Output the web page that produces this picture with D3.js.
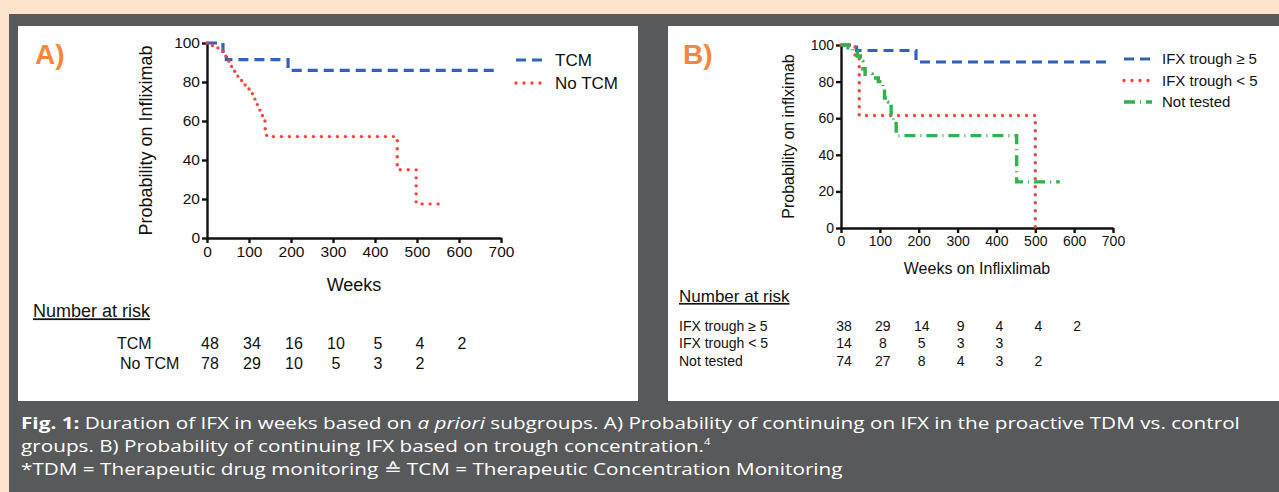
<!DOCTYPE html>
<html>
<head>
<meta charset="utf-8">
<script src="https://cdn.jsdelivr.net/npm/d3@7"></script>
<style>
  body { margin: 0; background: #fde2cc; }
  svg text { font-family: "Liberation Sans", Arial, sans-serif; fill: #111; }
  .caption text { font-family: "Open Sans", "Noto Sans", sans-serif; fill: #fff; }
  .axis path, .axis line { stroke: #111; stroke-width: 2.4; }
  .axis text { font-family: "Liberation Sans", Arial, sans-serif; fill: #111; }
</style>
</head>
<body>
<svg id="fig" width="1279" height="492"></svg>
<script>
// ---- data ----
const weekTicks = [0, 100, 200, 300, 400, 500, 600, 700];
const probTicks = [0, 20, 40, 60, 80, 100];
const riskWeeks = [0, 100, 200, 300, 400, 500, 600];

// Panel A: Kaplan-Meier steps (weeks, % still on infliximab)
const tcmWeeks   = [0, 38, 46, 193, 685];
const tcmProb    = [100, 94, 91.5, 86, 86];
const noTcmWeeks = [0, 10, 20, 30, 38, 45, 52, 58, 64, 72, 80, 90, 100, 108, 114, 120, 126, 132, 138, 142, 453, 498, 563];
const noTcmProb  = [100, 98.7, 97.4, 96, 94.6, 93, 90.5, 88, 85.5, 83, 80.8, 78.5, 76, 73, 70, 67, 64, 60, 56, 52, 35, 17.5, 17.5];

// Panel B
const hiWeeks  = [0, 40, 193, 683];
const hiProb   = [100, 97, 90.7, 90.7];
const loWeeks  = [0, 36, 47, 500];
const loProb   = [100, 93, 61.5, 0];
const ntWeeks  = [0, 18, 30, 42, 50, 56, 62, 80, 96, 108, 112, 122, 129, 135, 142, 452, 563];
const ntProb   = [100, 98.5, 96.5, 94, 91, 87, 84, 82, 80, 77, 71, 69, 62, 59, 50.5, 25.2, 25.2];

// Numbers at risk
const riskLabelsA = ['TCM', 'No TCM'];
const riskA = [[48, 34, 16, 10, 5, 4, 2], [78, 29, 10, 5, 3, 2]];
const riskLabelsB = ['IFX trough \u2265 5', 'IFX trough < 5', 'Not tested'];
const riskB = [[38, 29, 14, 9, 4, 4, 2], [14, 8, 5, 3, 3], [74, 27, 8, 4, 3, 2]];

const legendA = ['TCM', 'No TCM'];
const legendB = ['IFX trough \u2265 5', 'IFX trough < 5', 'Not tested'];

// line styles
const styles = {
  blue:  {stroke: '#2f62b8', width: 3.2, dash: '10,6', cap: 'butt'},
  red:   {stroke: '#f2453d', width: 3.4, dash: '0,8', cap: 'round'},
  green: {stroke: '#2fb34c', width: 3.4, dash: '11,5,1,5', cap: 'butt'}
};

const svg = d3.select('#fig');

// background: peach page, grey box, two white panels
svg.append('rect').attr('x', 0).attr('y', 0).attr('width', 1279).attr('height', 492).attr('fill', '#fde2cc');
svg.append('rect').attr('x', 9).attr('y', 14).attr('width', 1270).attr('height', 478).attr('fill', '#58595b');
svg.append('rect').attr('x', 18).attr('y', 26).attr('width', 620).attr('height', 375).attr('fill', '#fff');
svg.append('rect').attr('x', 668).attr('y', 26).attr('width', 611).attr('height', 375).attr('fill', '#fff');

class KMChart {
  constructor(_config) {
    this.config = _config;
    this.initVis();
  }

  initVis() {
    let vis = this;
    const c = vis.config;

    vis.xScale = d3.scaleLinear().domain([0, 700]).range([c.x0, c.x1]);
    vis.yScale = d3.scaleLinear().domain([0, 100]).range([c.y0, c.y1]);

    vis.g = svg.append('g');

    // axes
    vis.g.append('g')
        .attr('class', 'axis')
        .attr('transform', `translate(0,${c.y0})`)
        .call(d3.axisBottom(vis.xScale).tickValues(weekTicks).tickSize(5).tickPadding(3).tickSizeOuter(0))
        .selectAll('text').style('font-size', c.tickFont + 'px');

    vis.g.append('g')
        .attr('class', 'axis')
        .attr('transform', `translate(${c.x0},0)`)
        .call(d3.axisLeft(vis.yScale).tickValues(probTicks).tickSize(5).tickPadding(2).tickSizeOuter(0))
        .selectAll('text').style('font-size', c.tickFont + 'px');

    // axis titles
    vis.g.append('text')
        .attr('x', (c.x0 + c.x1) / 2)
        .attr('y', c.xTitleY)
        .attr('text-anchor', 'middle')
        .style('font-size', c.titleFont + 'px')
        .text(c.xTitle);

    vis.g.append('text')
        .attr('transform', `translate(${c.yTitleX},${(c.y0 + c.y1) / 2}) rotate(-90)`)
        .attr('text-anchor', 'middle')
        .attr('dy', '0.35em')
        .style('font-size', c.titleFont + 'px')
        .text(c.yTitle);

    // panel letter
    vis.g.append('text')
        .attr('x', c.letterX).attr('y', 64)
        .style('font-size', '28px').style('font-weight', 'bold')
        .style('fill', '#f4873e')
        .text(c.letter);

    vis.line = d3.line()
        .x(d => vis.xScale(d[0]))
        .y(d => vis.yScale(d[1]))
        .curve(d3.curveStepAfter);
  }

  renderVis() {
    let vis = this;
    const c = vis.config;

    vis.g.selectAll('.km')
        .data(c.series)
      .join('path')
        .attr('class', 'km')
        .attr('fill', 'none')
        .attr('d', s => vis.line(d3.zip(s.weeks, s.prob)))
        .attr('stroke', s => styles[s.style].stroke)
        .attr('stroke-width', s => styles[s.style].width)
        .attr('stroke-dasharray', s => styles[s.style].dash)
        .attr('stroke-linecap', s => styles[s.style].cap);

    // legend
    const leg = vis.g.selectAll('.legend')
        .data(c.series)
      .join('g')
        .attr('class', 'legend')
        .attr('transform', (s, i) => `translate(${c.legX},${c.legY + i * c.legStep})`);
    leg.append('line')
        .attr('x1', 0).attr('x2', c.legLen)
        .attr('stroke', s => styles[s.style].stroke)
        .attr('stroke-width', s => styles[s.style].width)
        .attr('stroke-dasharray', s => styles[s.style].dash)
        .attr('stroke-linecap', s => styles[s.style].cap);
    leg.append('text')
        .attr('x', c.legLen + 10).attr('dy', '0.35em')
        .style('font-size', c.legFont + 'px')
        .text((s, i) => c.legend[i]);

    // number at risk table
    vis.g.append('text')
        .attr('x', c.riskTitleX).attr('y', c.riskTitleY)
        .attr('dy', '0.35em')
        .style('font-size', c.riskTitleFont + 'px')
        .style('text-decoration', 'underline')
        .text('Number at risk');

    c.riskRows.forEach((row, i) => {
      vis.g.append('text')
          .attr('x', c.riskLabelX[i]).attr('y', c.riskY[i])
          .attr('dy', '0.35em')
          .style('font-size', c.riskFont + 'px')
          .text(c.riskLabels[i]);
      vis.g.selectAll(null)
          .data(row)
        .join('text')
          .attr('x', (d, j) => vis.xScale(riskWeeks[j]) + 3)
          .attr('y', c.riskY[i])
          .attr('dy', '0.35em')
          .attr('text-anchor', 'middle')
          .style('font-size', c.riskFont + 'px')
          .text(d => d);
    });
  }
}

const chartA = new KMChart({
  x0: 207, x1: 501, y0: 238, y1: 43,
  tickFont: 15.5, titleFont: 18,
  xTitle: 'Weeks', xTitleY: 291,
  yTitle: 'Probability on Infliximab', yTitleX: 146,
  letter: 'A)', letterX: 35,
  series: [
    {weeks: tcmWeeks, prob: tcmProb, style: 'blue'},
    {weeks: noTcmWeeks, prob: noTcmProb, style: 'red'}
  ],
  legend: legendA, legX: 516, legY: 60, legStep: 23, legLen: 29, legFont: 17,
  riskTitleX: 33, riskTitleY: 311, riskTitleFont: 18,
  riskRows: riskA, riskLabels: riskLabelsA, riskLabelX: [117, 120], riskY: [343, 363], riskFont: 16
});
chartA.renderVis();

const chartB = new KMChart({
  x0: 841, x1: 1113, y0: 228, y1: 45,
  tickFont: 14, titleFont: 16,
  xTitle: 'Weeks on Inflixlimab', xTitleY: 274,
  yTitle: 'Probability on inflximab', yTitleX: 788,
  letter: 'B)', letterX: 683,
  series: [
    {weeks: hiWeeks, prob: hiProb, style: 'blue'},
    {weeks: loWeeks, prob: loProb, style: 'red'},
    {weeks: ntWeeks, prob: ntProb, style: 'green'}
  ],
  legend: legendB, legX: 1124, legY: 59, legStep: 21.5, legLen: 28, legFont: 15,
  riskTitleX: 679, riskTitleY: 296, riskTitleFont: 17,
  riskRows: riskB, riskLabels: riskLabelsB, riskLabelX: [679, 679, 679], riskY: [326, 343, 361], riskFont: 14
});
chartB.renderVis();

// caption
const cap = svg.append('g').attr('class', 'caption');
const l1 = cap.append('text').attr('x', 0).attr('y', 0).style('font-size', '16.5px');
l1.append('tspan').style('font-weight', 'bold').text('Fig. 1:');
l1.append('tspan').text(' Duration of IFX in weeks based on ');
l1.append('tspan').style('font-style', 'italic').text('a priori');
l1.append('tspan').text(' subgroups. A) Probability of continuing on IFX in the proactive TDM vs. control');
const l2 = cap.append('text').attr('x', 0).attr('y', 23).style('font-size', '16.5px');
l2.append('tspan').text('groups. B) Probability of continuing IFX based on trough concentration.');
l2.append('tspan').attr('dy', -7).style('font-size', '9px').text('4');
cap.append('text').attr('x', 0).attr('y', 46).style('font-size', '16.5px')
    .text('*TDM = Therapeutic drug monitoring \u2259 TCM = Therapeutic Concentration Monitoring');

// squeeze caption horizontally so line one spans the grey box like the original
const w1 = l1.node().getComputedTextLength();
const sx = 1220 / w1;
cap.attr('transform', `translate(21,429) scale(${sx},1)`);
</script>
</body>
</html>
